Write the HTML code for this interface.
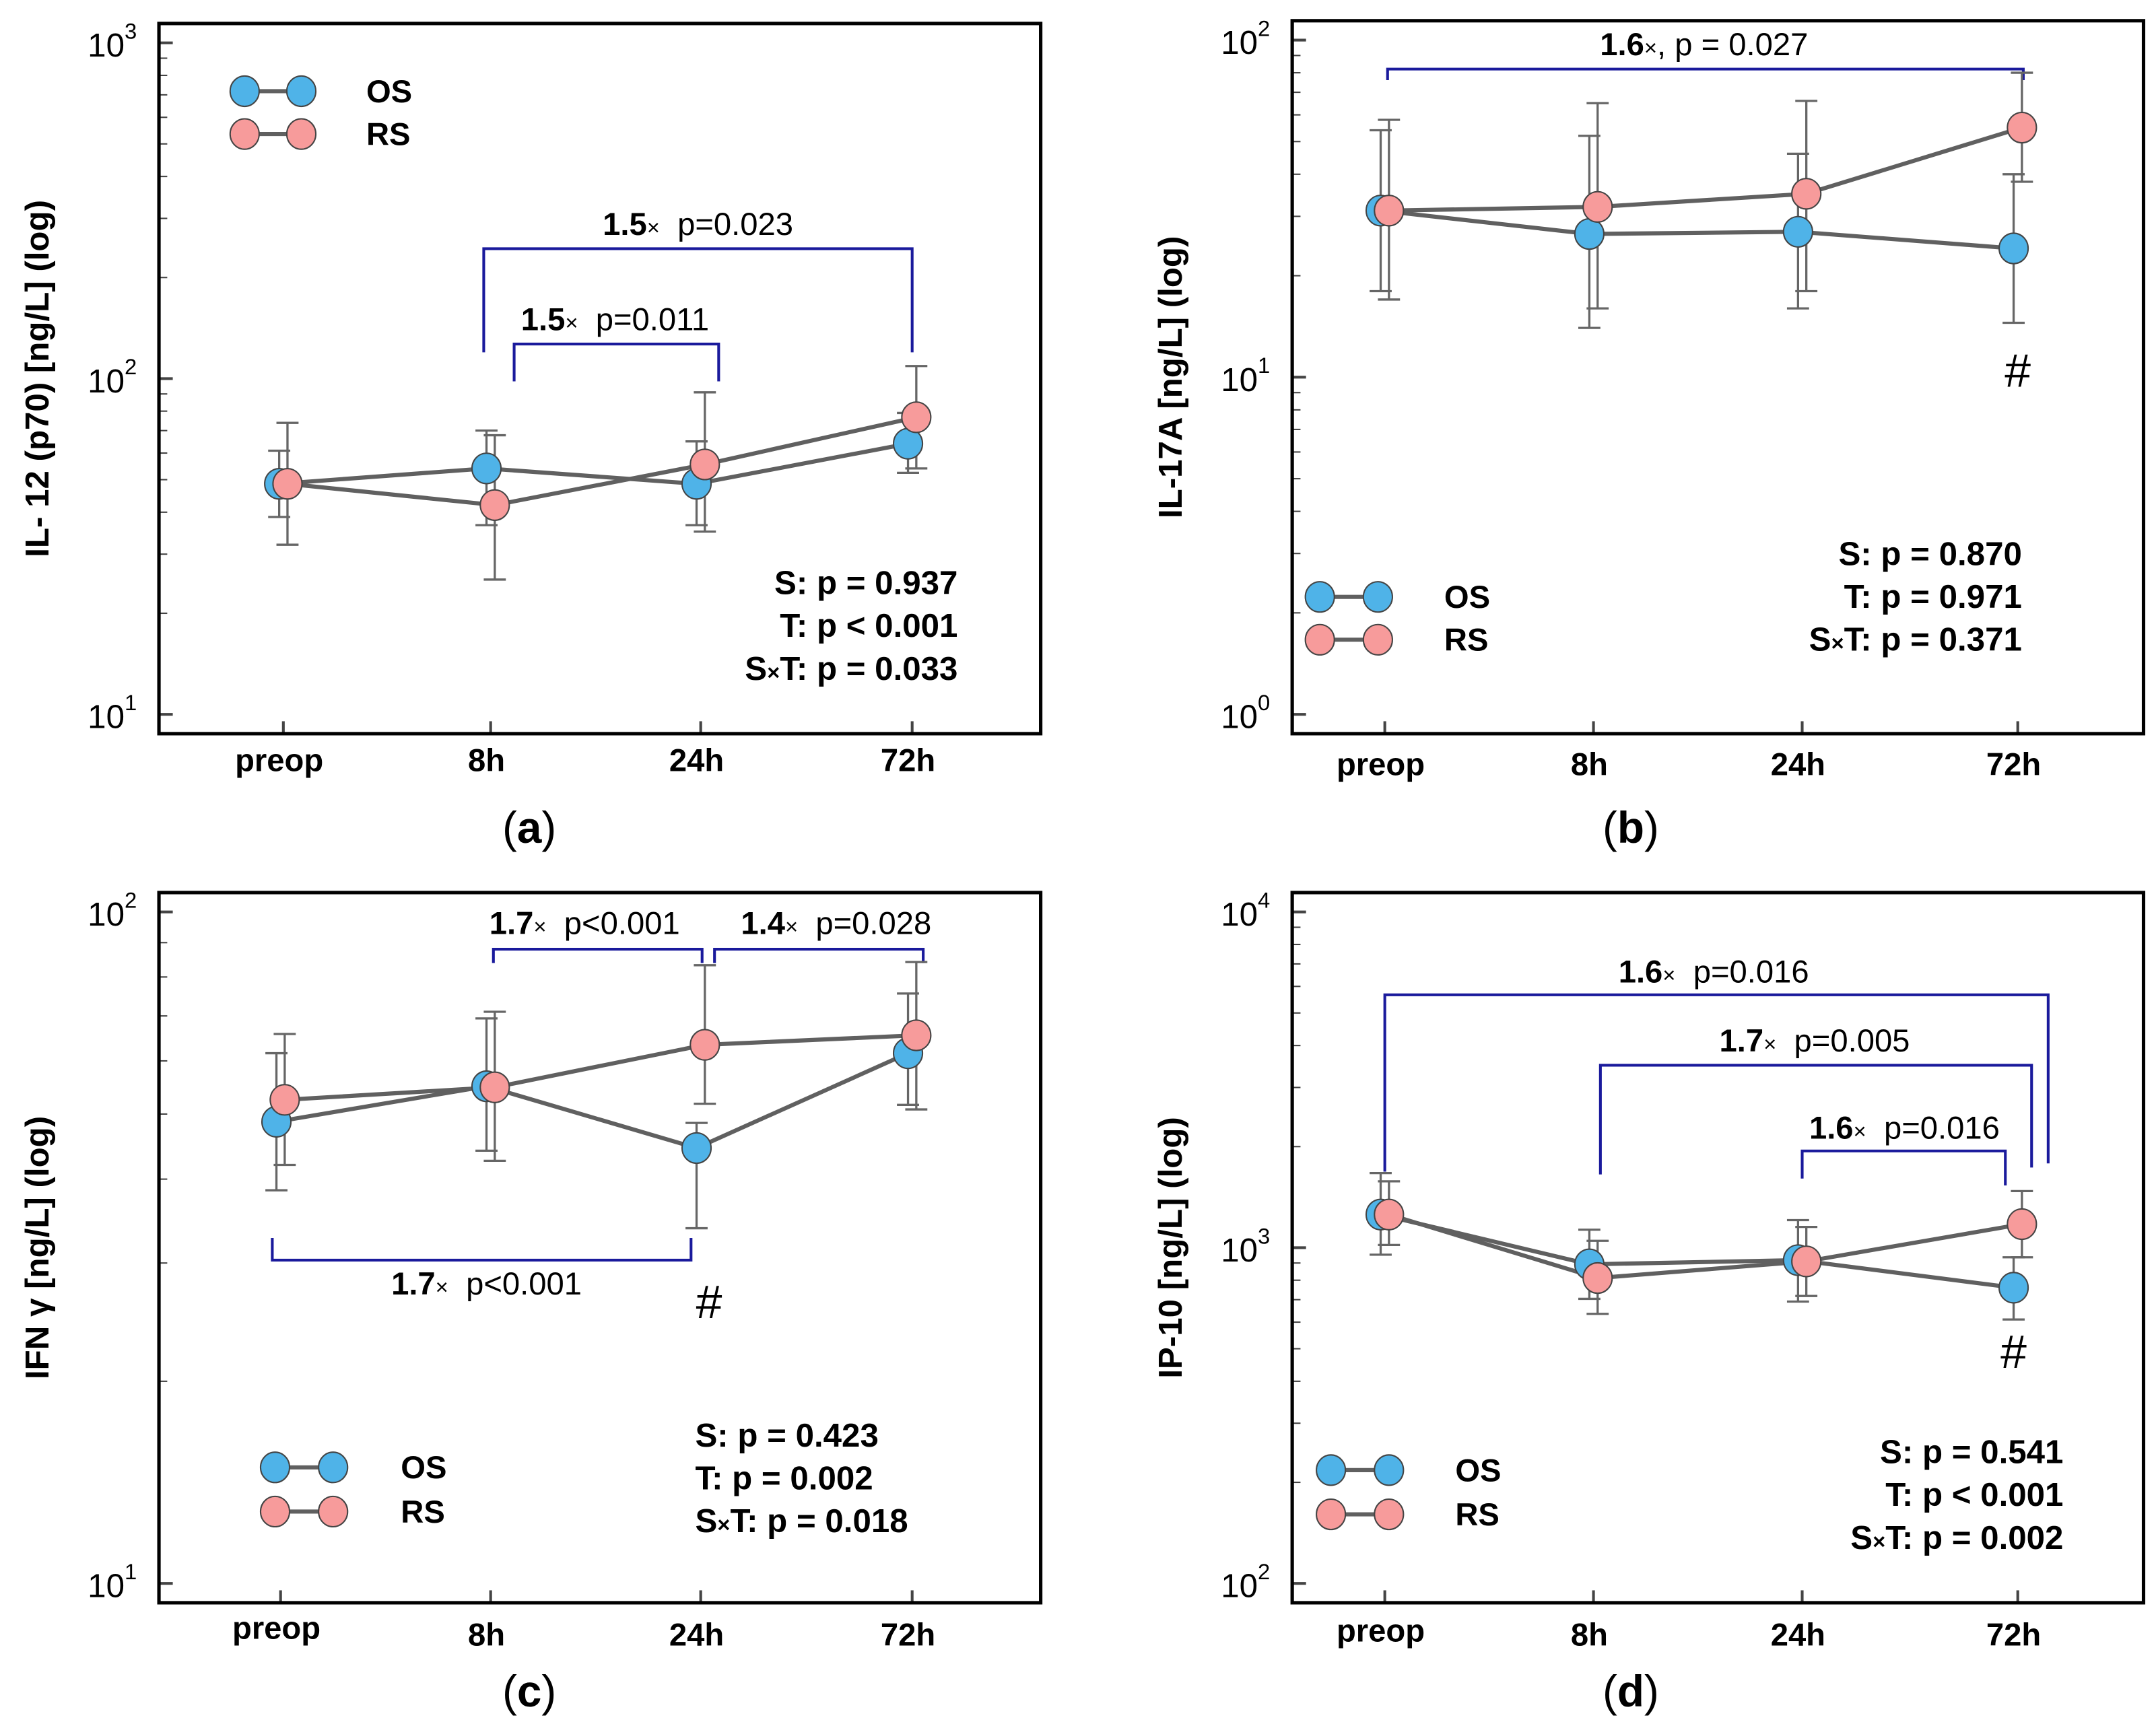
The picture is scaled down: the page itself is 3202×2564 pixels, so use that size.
<!DOCTYPE html>
<html><head><meta charset="utf-8"><style>
html,body{margin:0;padding:0;background:#fff}
svg{display:block}
text{font-family:"Liberation Sans",Arial,sans-serif}
</style></head><body>
<svg id="fig" xmlns="http://www.w3.org/2000/svg" width="3202" height="2564" viewBox="0 0 1560 1249.2"></svg>
<script>
// ----- data -----
const categories = ["preop","8h","24h","72h"];
// panel a: IL-12 (p70)
const aOS = [48.6, 54, 48.6, 64];
const aRS = [48.6, 42, 55.5, 76.7];
const aOSlo = [38.7, 36.6, 36.6, 52.4];
const aOShi = [61, 70, 65, 79];
const aRSlo = [32, 25.2, 35, 54];
const aRShi = [73.8, 67.8, 91, 109];
// panel b: IL-17A
const bOS = [31.2, 26.6, 27.0, 24.1];
const bRS = [31.2, 32.0, 35, 55];
const bOSlo = [18, 14, 16, 14.5];
const bOShi = [54, 52, 46, 40];
const bRSlo = [17, 16, 18, 38];
const bRShi = [58, 65, 66, 80];
// panel c: IFN gamma
const cOS = [48.7, 55.0, 44.5, 61.6];
const cRS = [52.5, 54.8, 63.4, 65.5];
const cOSlo = [38.5, 44.1, 33.8, 51.6];
const cOShi = [61.6, 69.4, 48.5, 75.6];
const cRSlo = [42, 42.6, 51.8, 50.8];
const cRShi = [65.8, 71, 83.3, 84.2];
// panel d: IP-10
const dOS = [1255, 892, 918, 760];
const dRS = [1255, 812, 910, 1175];
const dOSlo = [953, 704, 691, 611];
const dOShi = [1668, 1131, 1208, 936];
const dRSlo = [1019, 635, 718, 936];
const dRShi = [1576, 1048, 1153, 1474];

const NS="http://www.w3.org/2000/svg";
const svg=document.getElementById('fig');
function mk(tag,attrs,parent){const e=document.createElementNS(NS,tag);for(const k in attrs)e.setAttribute(k,attrs[k]);(parent||svg).appendChild(e);return e;}
function txt(x,y,s,attrs,parent){const t=mk('text',Object.assign({x:x,y:y},attrs),parent);t.innerHTML=s;return t;}

const panels=[
 {id:'a',box:[115,17,753,531],dmin:1,dmax:3,xs:[205,355,507,660],
  ylab:'IL- 12 (p70) [ng/L] (log)',os:aOS,rs:aRS,osl:aOSlo,osh:aOShi,rsl:aRSlo,rsh:aRShi,
  catY:[550,550,550,550],letter:[383,600,'(a)'],legend:[177,218,66,97,265],
  stats:{x:693,anchor:'end',y:[421,452,483],t:['S: p = 0.937','T: p &lt; 0.001','S<tspan font-size="16">×</tspan>T: p = 0.033']},
  brackets:[{x1:350,x2:660,y:180,y1:255,y2:255,tx:505,ty:162,b:'1.5',s:'p=0.023'},
            {x1:372,x2:520,y:249,y1:276,y2:276,tx:445,ty:231,b:'1.5',s:'p=0.011'}],hash:null},
 {id:'b',box:[935,15,1551,531],dmin:0,dmax:2,xs:[1002,1153,1304,1460],
  ylab:'IL-17A [ng/L] (log)',os:bOS,rs:bRS,osl:bOSlo,osh:bOShi,rsl:bRSlo,rsh:bRShi,
  catY:[553,553,553,553],letter:[1180,600,'(b)'],legend:[955,997,432,463,1045],
  stats:{x:1463,anchor:'end',y:[400,431,462],t:['S: p = 0.870','T: p = 0.971','S<tspan font-size="16">×</tspan>T: p = 0.371']},
  brackets:[{x1:1004,x2:1464,y:50,y1:58,y2:58,tx:1233,ty:32,b:'1.6',s:', p = 0.027'}],hash:[1460,268]},
 {id:'c',box:[115,646,753,1160],dmin:1,dmax:2,xs:[203,355,507,660],
  ylab:'IFN γ [ng/L] (log)',os:cOS,rs:cRS,osl:cOSlo,osh:cOShi,rsl:cRSlo,rsh:cRShi,
  catY:[1178,1183,1183,1183],letter:[383,1225,'(c)'],legend:[199,241,1062,1094,290],
  stats:{x:503,anchor:'start',y:[1038,1069,1100],t:['S: p = 0.423','T: p = 0.002','S<tspan font-size="16">×</tspan>T: p = 0.018']},
  brackets:[{x1:357,x2:508,y:687,y1:697,y2:697,tx:423,ty:668,b:'1.7',s:'p&lt;0.001'},
            {x1:517,x2:668,y:687,y1:697,y2:697,tx:605,ty:668,b:'1.4',s:'p=0.028'},
            {x1:197,x2:500,y:912,y1:896,y2:896,tx:352,ty:929,b:'1.7',s:'p&lt;0.001'}],hash:[513,942]},
 {id:'d',box:[935,646,1551,1160],dmin:2,dmax:4,xs:[1002,1153,1304,1460],
  ylab:'IP-10 [ng/L] (log)',os:dOS,rs:dRS,osl:dOSlo,osh:dOShi,rsl:dRSlo,rsh:dRShi,
  catY:[1180,1183,1183,1183],letter:[1180,1225,'(d)'],legend:[963,1005,1064,1096,1053],
  stats:{x:1493,anchor:'end',y:[1050,1081,1112],t:['S: p = 0.541','T: p &lt; 0.001','S<tspan font-size="16">×</tspan>T: p = 0.002']},
  brackets:[{x1:1002,x2:1482,y:720,y1:848,y2:842,tx:1240,ty:703,b:'1.6',s:'p=0.016'},
            {x1:1158,x2:1470,y:771,y1:850,y2:845,tx:1313,ty:753,b:'1.7',s:'p=0.005'},
            {x1:1304,x2:1451,y:833,y1:853,y2:858,tx:1378,ty:816,b:'1.6',s:'p=0.016'}],hash:[1457,978]}
];

const OSC='#4fb3e8', RSC='#f79b9b', LC='#606060', BC='#1a1a9c';
panels.forEach(p=>{
  const g=mk('g',{});
  
  
  const [L,T,R,B]=p.box;
  const yTop=T+14, yBot=B-14;
  const yScale=v=>yBot-(Math.log10(v)-p.dmin)/(p.dmax-p.dmin)*(yBot-yTop);
  const xScale=i=>p.xs[i];
  for(let d=p.dmin;d<=p.dmax;d++){
    const y=yScale(Math.pow(10,d));
    mk('line',{x1:L,x2:L+10,y1:y,y2:y,stroke:'#444','stroke-width':2},g);
    const t=txt(L-16,y+10,'10<tspan dy="-13" font-size="16">'+d+'</tspan>',{'text-anchor':'end','font-size':24},g);
    
    
    if(d<p.dmax){for(let m=2;m<10;m++){const ym=yScale(m*Math.pow(10,d));mk('line',{x1:L,x2:L+6,y1:ym,y2:ym,stroke:'#444','stroke-width':1},g);}}
  }
  categories.forEach((c,i)=>{
    mk('line',{x1:xScale(i),x2:xScale(i),y1:B,y2:B-9,stroke:'#444','stroke-width':2},g);
    const t=txt(xScale(i)-3,p.catY[i]+8,c,{'text-anchor':'middle','font-size':23,'font-weight':'bold'},g);
    
    
  });
  const frame=mk('rect',{x:L,y:T,width:R-L,height:B-T,fill:'none',stroke:'#000','stroke-width':2.5},g);
  
  
  const yl=txt(0,0,p.ylab,{'text-anchor':'middle','font-size':24,'font-weight':'bold',transform:'translate('+(L-80)+','+((T+B)/2)+') rotate(-90)'},g);
  
  
  p.brackets.forEach(b=>{
    const pl=mk('polyline',{points:b.x1+','+b.y1+' '+b.x1+','+b.y+' '+b.x2+','+b.y+' '+b.x2+','+b.y2,fill:'none',stroke:BC,'stroke-width':2},g);
    
    
    const t=txt(b.tx,b.ty+8,'<tspan font-weight="bold">'+b.b+'</tspan><tspan font-size="16">×</tspan>'+(b.s.startsWith(',')?'':'\u00a0\u00a0')+b.s,{'text-anchor':'middle','font-size':23},g);
    
    
  });
  const series=[{v:p.os,lo:p.osl,hi:p.osh,c:OSC,off:-3,n:'os'},{v:p.rs,lo:p.rsl,hi:p.rsh,c:RSC,off:3,n:'rs'}];
  series.forEach(s=>{
    s.v.forEach((v,i)=>{
      const x=xScale(i)+s.off;
      const e=mk('path',{d:'M'+x+','+yScale(s.lo[i])+'V'+yScale(s.hi[i])+'M'+(x-8)+','+yScale(s.lo[i])+'h16M'+(x-8)+','+yScale(s.hi[i])+'h16',stroke:'#666','stroke-width':1.6,fill:'none'},g);
      
      
    });
  });
  series.forEach(s=>{
    const pts=s.v.map((v,i)=>(xScale(i)+s.off)+','+yScale(v)).join(' ');
    const l=mk('polyline',{points:pts,fill:'none',stroke:LC,'stroke-width':3},g);
    
    
  });
  series.forEach(s=>{
    s.v.forEach((v,i)=>{
      const c=mk('ellipse',{cx:xScale(i)+s.off,cy:yScale(v),rx:10.5,ry:11,fill:s.c,stroke:'#444','stroke-width':1},g);
      
      
    });
  });
  const [lx1,lx2,ly1,ly2,ltx]=p.legend;
  [[ly1,OSC,'OS'],[ly2,RSC,'RS']].forEach(([y,c,n])=>{
    const lg=mk('g',{},g);
    
    
    mk('line',{x1:lx1,x2:lx2,y1:y,y2:y,stroke:LC,'stroke-width':3},lg);
    mk('ellipse',{cx:lx1,cy:y,rx:10.5,ry:11,fill:c,stroke:'#444','stroke-width':1},lg);
    mk('ellipse',{cx:lx2,cy:y,rx:10.5,ry:11,fill:c,stroke:'#444','stroke-width':1},lg);
    txt(ltx,y+8,n,{'font-size':23,'font-weight':'bold'},lg);
  });
  p.stats.t.forEach((s,i)=>{
    const t=txt(p.stats.x,p.stats.y[i]+9,s,{'text-anchor':p.stats.anchor,'font-size':24,'font-weight':'bold'},g);
    
    
  });
  if(p.hash){const h=txt(p.hash[0],p.hash[1]+12,'#',{'text-anchor':'middle','font-size':34,'font-family':'Liberation Serif, serif'},g);
    
    }
  const lt=txt(p.letter[0],p.letter[1]+10,'(<tspan font-weight="bold">'+p.id+'</tspan>)',{'text-anchor':'middle','font-size':32,'font-family':'Liberation Serif, serif'},g);
  
  
});
</script>
</body></html>
